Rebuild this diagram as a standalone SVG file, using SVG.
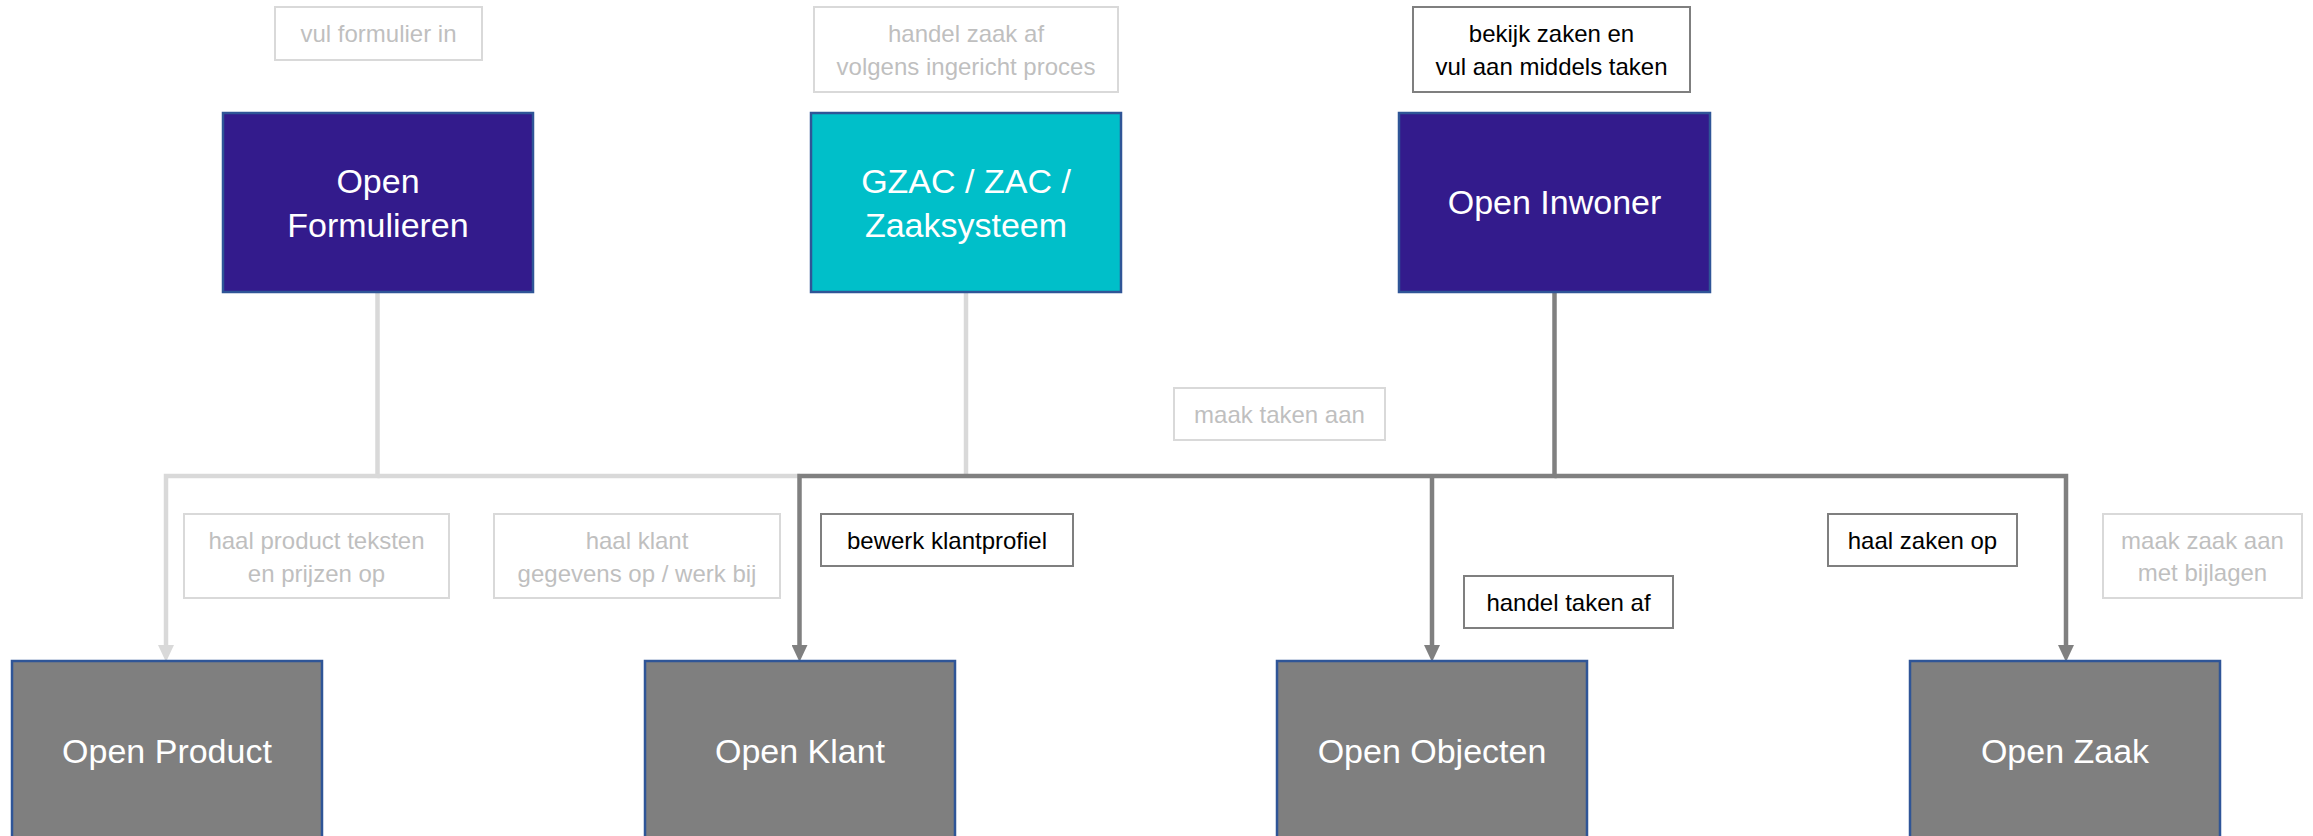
<svg xmlns="http://www.w3.org/2000/svg" width="2313" height="836" viewBox="0 0 2313 836">
<style>
.node rect{stroke:#2f5597;stroke-width:2.5}
.purple rect{fill:#331b8c}
.cyan rect{fill:#00bfc9}
.grey rect{fill:#7f7f7f}
.node text{font-family:"Liberation Sans",Arial,sans-serif;font-size:34px;fill:#ffffff;text-anchor:middle}
.lbl rect{fill:#ffffff;stroke-width:2}
.lbl text{font-family:"Liberation Sans",Arial,sans-serif;font-size:24px;text-anchor:middle}
.faint rect{stroke:#d9d9d9}
.faint text{fill:#bfbfbf}
.strong rect{stroke:#7f7f7f}
.strong text{fill:#000000}
.light{fill:none;stroke:#d9d9d9;stroke-width:4.5}
.dark{fill:none;stroke:#808080;stroke-width:4.5}
</style>
<defs>
<marker id="arrL" viewBox="0 0 17 16" refX="0" refY="8" markerWidth="17" markerHeight="16" markerUnits="userSpaceOnUse" orient="auto"><path d="M0,0 L17,8 L0,16 Z" fill="#d9d9d9"/></marker>
<marker id="arrD" viewBox="0 0 17 16" refX="0" refY="8" markerWidth="17" markerHeight="16" markerUnits="userSpaceOnUse" orient="auto"><path d="M0,0 L17,8 L0,16 Z" fill="#808080"/></marker>
</defs>
<rect width="2313" height="836" fill="#ffffff"/>
<g id="connectors">
<path class="light" d="M377.5,292 V476 H166 V645" marker-end="url(#arrL)"/>
<path class="light" d="M377.5,476 H800"/>
<path class="light" d="M966,292 V476"/>
<path class="dark" d="M1554.5,292 V476 H799.5 V645" marker-end="url(#arrD)"/>
<path class="dark" d="M1432,476 V645" marker-end="url(#arrD)"/>
<path class="dark" d="M1554.5,476 H2066 V645" marker-end="url(#arrD)"/>
</g>
<g id="node-open-formulieren" class="node purple"><rect x="223" y="113" width="310" height="179"/><text x="378" y="193">Open</text><text x="378" y="237">Formulieren</text></g>
<g id="node-gzac" class="node cyan"><rect x="811" y="113" width="310" height="179"/><text x="966" y="193">GZAC / ZAC /</text><text x="966" y="237">Zaaksysteem</text></g>
<g id="node-open-inwoner" class="node purple"><rect x="1399" y="113" width="311" height="179"/><text x="1554.5" y="214">Open Inwoner</text></g>
<g id="node-open-product" class="node grey"><rect x="12" y="661" width="310" height="179"/><text x="167" y="763">Open Product</text></g>
<g id="node-open-klant" class="node grey"><rect x="645" y="661" width="310" height="179"/><text x="800" y="763">Open Klant</text></g>
<g id="node-open-objecten" class="node grey"><rect x="1277" y="661" width="310" height="179"/><text x="1432" y="763">Open Objecten</text></g>
<g id="node-open-zaak" class="node grey"><rect x="1910" y="661" width="310" height="179"/><text x="2065" y="763">Open Zaak</text></g>
<g id="label-vul-formulier" class="lbl faint"><rect x="275" y="7" width="207" height="53"/><text x="378.5" y="42">vul formulier in</text></g>
<g id="label-handel-zaak" class="lbl faint"><rect x="814" y="7" width="304" height="85"/><text x="966" y="42">handel zaak af</text><text x="966" y="75">volgens ingericht proces</text></g>
<g id="label-bekijk-zaken" class="lbl strong"><rect x="1413" y="7" width="277" height="85"/><text x="1551.5" y="42">bekijk zaken en</text><text x="1551.5" y="75">vul aan middels taken</text></g>
<g id="label-maak-taken" class="lbl faint"><rect x="1174" y="388" width="211" height="52"/><text x="1279.5" y="423">maak taken aan</text></g>
<g id="label-haal-product" class="lbl faint"><rect x="184" y="514" width="265" height="84"/><text x="316.5" y="549">haal product teksten</text><text x="316.5" y="582">en prijzen op</text></g>
<g id="label-haal-klant" class="lbl faint"><rect x="494" y="514" width="286" height="84"/><text x="637" y="549">haal klant</text><text x="637" y="582">gegevens op / werk bij</text></g>
<g id="label-bewerk-klantprofiel" class="lbl strong"><rect x="821" y="514" width="252" height="52"/><text x="947" y="549">bewerk klantprofiel</text></g>
<g id="label-handel-taken" class="lbl strong"><rect x="1464" y="576" width="209" height="52"/><text x="1568.5" y="611">handel taken af</text></g>
<g id="label-haal-zaken" class="lbl strong"><rect x="1828" y="514" width="189" height="52"/><text x="1922.5" y="549">haal zaken op</text></g>
<g id="label-maak-zaak" class="lbl faint"><rect x="2103" y="514" width="199" height="84"/><text x="2202.5" y="549">maak zaak aan</text><text x="2202.5" y="581">met bijlagen</text></g>
</svg>
